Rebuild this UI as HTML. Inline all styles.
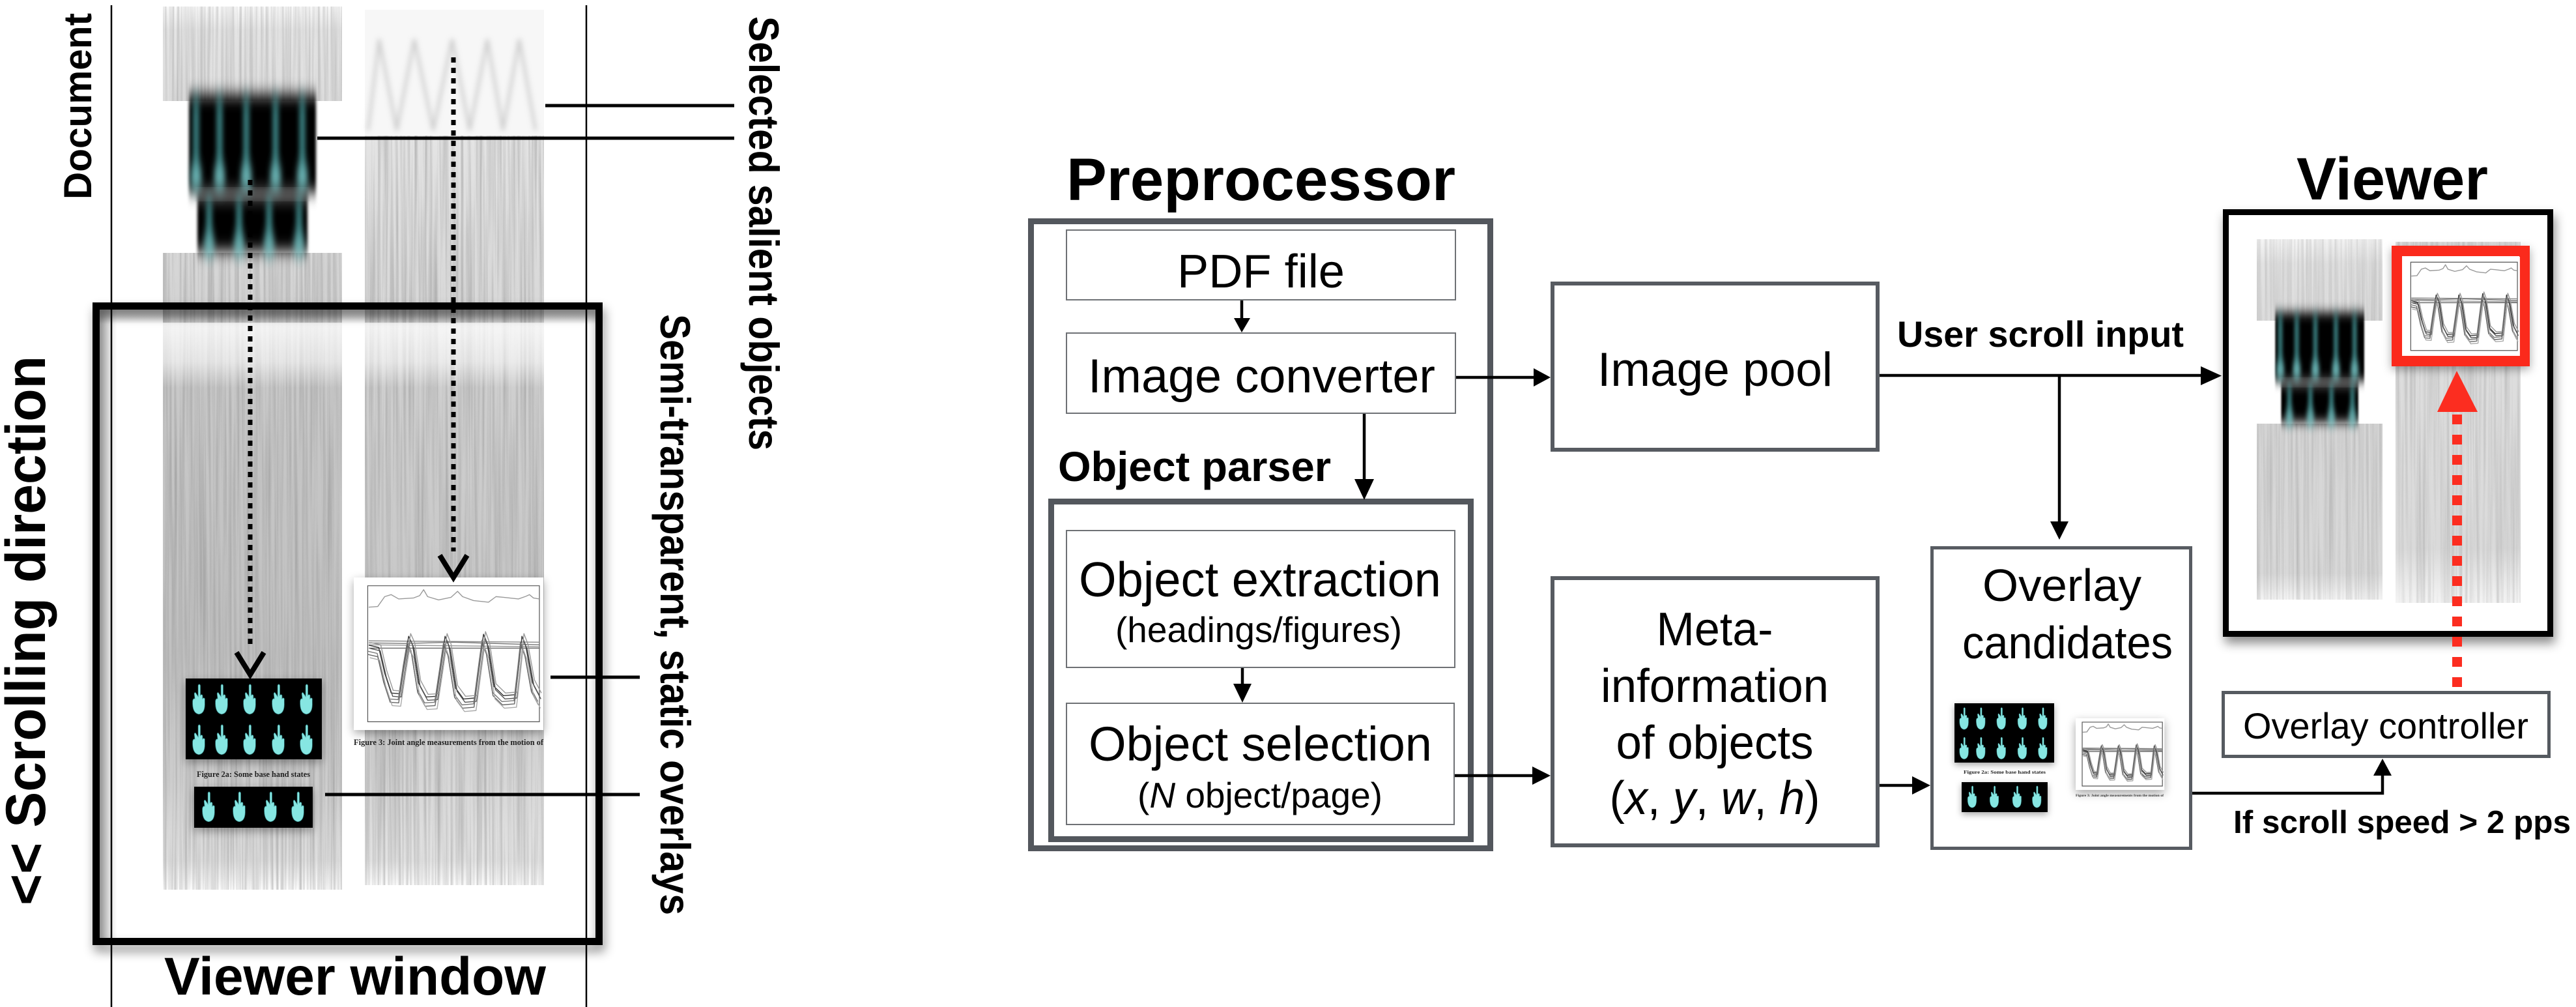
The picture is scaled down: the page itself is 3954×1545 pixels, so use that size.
<!DOCTYPE html>
<html><head><meta charset="utf-8">
<style>html,body{margin:0;padding:0;background:#fff}svg{display:block}</style>
</head><body>
<svg xmlns="http://www.w3.org/2000/svg" width="3954" height="1545" viewBox="0 0 3954 1545" font-family="'Liberation Sans', Arial, sans-serif">
<defs>
  <filter id="streaks" x="0" y="0" width="1" height="1">
    <feTurbulence type="fractalNoise" baseFrequency="0.25 0.003" numOctaves="3" seed="7" result="n"/>
    <feColorMatrix in="n" type="matrix" values="0 0 0 0 0.3  0 0 0 0 0.3  0 0 0 0 0.3  1.7 0 0 0 -0.6" result="m"/>
    <feComposite in="m" in2="SourceGraphic" operator="in"/>
  </filter>
  <filter id="blurV" x="-20%" y="-40%" width="140%" height="180%"><feGaussianBlur stdDeviation="2 12"/></filter>
  <filter id="blurC" x="-40%" y="-40%" width="180%" height="180%"><feGaussianBlur stdDeviation="4 14"/></filter>
  <filter id="blur3" x="-20%" y="-20%" width="140%" height="140%"><feGaussianBlur stdDeviation="4"/></filter>
  <filter id="shadow" x="-10%" y="-10%" width="120%" height="125%"><feDropShadow dx="3" dy="10" stdDeviation="8" flood-color="#000" flood-opacity="0.45"/></filter>
  <filter id="softsh" x="-20%" y="-20%" width="140%" height="150%"><feDropShadow dx="0" dy="5" stdDeviation="7" flood-color="#000" flood-opacity="0.35"/></filter>

  <linearGradient id="gA" gradientUnits="userSpaceOnUse" x1="0" y1="10" x2="0" y2="155">
    <stop offset="0" stop-color="#fafafa"/><stop offset="0.25" stop-color="#e4e4e4"/><stop offset="1" stop-color="#dedede"/>
  </linearGradient>
  <linearGradient id="gLB" gradientUnits="userSpaceOnUse" x1="0" y1="388" x2="0" y2="1365">
    <stop offset="0" stop-color="#d8d8d8"/><stop offset="0.084" stop-color="#d2d2d2"/>
    <stop offset="0.217" stop-color="#c8c8c8"/><stop offset="0.626" stop-color="#c0c0c0"/>
    <stop offset="0.831" stop-color="#cdcdcd"/><stop offset="0.954" stop-color="#dedede"/><stop offset="1" stop-color="#fcfcfc"/>
  </linearGradient>
  <linearGradient id="gRB" gradientUnits="userSpaceOnUse" x1="0" y1="208" x2="0" y2="1358">
    <stop offset="0" stop-color="#e4e4e4"/><stop offset="0.228" stop-color="#d8d8d8"/>
    <stop offset="0.339" stop-color="#cfcfcf"/><stop offset="0.6" stop-color="#c8c8c8"/>
    <stop offset="0.817" stop-color="#d2d2d2"/><stop offset="0.967" stop-color="#e2e2e2"/><stop offset="1" stop-color="#fcfcfc"/>
  </linearGradient>
  <linearGradient id="wash" x1="0" y1="0" x2="0" y2="1">
    <stop offset="0" stop-color="#fff" stop-opacity="0.8"/><stop offset="0.6" stop-color="#fff" stop-opacity="0.55"/><stop offset="1" stop-color="#fff" stop-opacity="0"/>
  </linearGradient>
  <linearGradient id="topsh" x1="0" y1="0" x2="0" y2="1">
    <stop offset="0" stop-color="#000" stop-opacity="0.35"/><stop offset="1" stop-color="#000" stop-opacity="0"/>
  </linearGradient>
  <linearGradient id="leftsh" x1="0" y1="0" x2="1" y2="0">
    <stop offset="0" stop-color="#000" stop-opacity="0.25"/><stop offset="1" stop-color="#000" stop-opacity="0"/>
  </linearGradient>
  <linearGradient id="gV1" gradientUnits="userSpaceOnUse" x1="0" y1="367" x2="0" y2="492">
    <stop offset="0" stop-color="#f6f6f6"/><stop offset="0.3" stop-color="#e2e2e2"/><stop offset="1" stop-color="#dcdcdc"/>
  </linearGradient>
  <linearGradient id="gV2" gradientUnits="userSpaceOnUse" x1="0" y1="650" x2="0" y2="920">
    <stop offset="0" stop-color="#d6d6d6"/><stop offset="0.85" stop-color="#d8d8d8"/><stop offset="1" stop-color="#f4f4f4"/>
  </linearGradient>
  <linearGradient id="gV3" gradientUnits="userSpaceOnUse" x1="0" y1="371" x2="0" y2="925">
    <stop offset="0" stop-color="#e0e0e0"/><stop offset="0.85" stop-color="#dadada"/><stop offset="1" stop-color="#f4f4f4"/>
  </linearGradient>

  <symbol id="hand" viewBox="0 0 40 60">
    <path fill="#86e6e2" stroke="#2f7f80" stroke-width="0.8" d="M9,34 Q8,56 20,58 Q32,57 31,36 L31,30 Q29,27 27,30 L27,24 Q25,21 23,24 L23,6 Q21,2 19,6 L19,26 L15,20 Q13,17 12,21 L13,30 Q10,29 9,34 Z"/>
  </symbol>

  <g id="bh">
    <g filter="url(#blurV)">
      <rect x="290" y="145" width="195" height="150" fill="#000"/>
      <rect x="303" y="302" width="169" height="84" fill="#000"/>
    </g>
    <rect x="300" y="292" width="175" height="12" fill="#888" filter="url(#blurV)" opacity="0.7"/>
    <g filter="url(#blurC)" stroke="#5fd0d2" stroke-width="8" opacity="0.7">
      <line x1="301" y1="150" x2="301" y2="280"/><line x1="337" y1="150" x2="337" y2="280"/>
      <line x1="378" y1="150" x2="378" y2="280"/><line x1="423" y1="150" x2="423" y2="280"/>
      <line x1="464" y1="150" x2="464" y2="280"/>
      <line x1="321" y1="305" x2="321" y2="382"/><line x1="367" y1="305" x2="367" y2="382"/>
      <line x1="413" y1="305" x2="413" y2="382"/><line x1="459" y1="305" x2="459" y2="382"/>
    </g>
    <g filter="url(#blurC)" fill="#8fe6e6" opacity="0.8">
      <ellipse cx="301" cy="272" rx="10" ry="16"/><ellipse cx="337" cy="272" rx="10" ry="16"/>
      <ellipse cx="378" cy="272" rx="10" ry="16"/><ellipse cx="423" cy="272" rx="10" ry="16"/>
      <ellipse cx="464" cy="272" rx="10" ry="16"/>
      <ellipse cx="321" cy="376" rx="10" ry="13"/><ellipse cx="367" cy="376" rx="10" ry="13"/>
      <ellipse cx="413" cy="376" rx="10" ry="13"/><ellipse cx="459" cy="376" rx="10" ry="13"/>
    </g>
  </g>

  <g id="hi1">
    <rect x="285" y="1041" width="209" height="124" fill="#000"/>
    <use href="#hand" x="288" y="1045" width="34" height="54"/>
    <use href="#hand" x="323" y="1045" width="34" height="54"/>
    <use href="#hand" x="366" y="1045" width="34" height="54"/>
    <use href="#hand" x="410" y="1045" width="34" height="54"/>
    <use href="#hand" x="453" y="1045" width="34" height="54"/>
    <use href="#hand" x="288" y="1107" width="34" height="54"/>
    <use href="#hand" x="323" y="1107" width="34" height="54"/>
    <use href="#hand" x="366" y="1107" width="34" height="54"/>
    <use href="#hand" x="410" y="1107" width="34" height="54"/>
    <use href="#hand" x="453" y="1107" width="34" height="54"/>
  </g>
  <g id="hi2">
    <rect x="298" y="1207" width="182" height="63" fill="#000"/>
    <use href="#hand" x="303" y="1210" width="34" height="54"/>
    <use href="#hand" x="350" y="1210" width="34" height="54"/>
    <use href="#hand" x="398" y="1210" width="34" height="54"/>
    <use href="#hand" x="440" y="1210" width="34" height="54"/>
  </g>

  <g id="chartG">
    <rect x="0" y="0" width="380" height="462" fill="#fff"/>
    <rect x="28" y="25" width="344" height="412" fill="none" stroke="#555" stroke-width="1.2" vector-effect="non-scaling-stroke"/>
    <g fill="none" stroke-width="1.4" stroke-linejoin="round">
      <path vector-effect="non-scaling-stroke" stroke="#999" d="M30,90 L48,88 L62,58 L75,52 L90,65 L120,62 L132,55 L140,37 L148,58 L170,68 L195,60 L208,42 L218,58 L240,70 L270,75 L285,58 L300,60 L330,65 L345,57 L352,52 L360,62 L372,65"/>
      <path vector-effect="non-scaling-stroke" stroke="#888" d="M30,192 L372,196"/>
      <path vector-effect="non-scaling-stroke" stroke="#777" d="M30,198 L100,200 L200,196 L372,204"/>
      <path vector-effect="non-scaling-stroke" stroke="#999" d="M30,204 L372,210"/>
      <path vector-effect="non-scaling-stroke" stroke="#666" d="M30,214 L372,214"/>
      <path vector-effect="non-scaling-stroke" stroke="#333" d="M30,205 L50,212 L62,290 L75,350 L92,352 L102,250 L110,178 L118,205 L130,320 L145,362 L165,360 L176,250 L183,178 L191,210 L204,335 L220,368 L243,365 L253,250 L260,172 L268,205 L281,330 L300,358 L324,355 L332,250 L337,178 L345,210 L358,318 L372,358"/>
      <path vector-effect="non-scaling-stroke" stroke="#555" transform="translate(3,10)" d="M30,205 L50,212 L62,290 L75,350 L92,352 L102,250 L110,178 L118,205 L130,320 L145,362 L165,360 L176,250 L183,178 L191,210 L204,335 L220,368 L243,365 L253,250 L260,172 L268,205 L281,330 L300,358 L324,355 L332,250 L337,178 L345,210 L358,318 L372,358"/>
      <path vector-effect="non-scaling-stroke" stroke="#777" transform="translate(-3,18)" d="M30,205 L50,212 L62,290 L75,350 L92,352 L102,250 L110,178 L118,205 L130,320 L145,362 L165,360 L176,250 L183,178 L191,210 L204,335 L220,368 L243,365 L253,250 L260,172 L268,205 L281,330 L300,358 L324,355 L332,250 L337,178 L345,210 L358,318 L372,358"/>
      <path vector-effect="non-scaling-stroke" stroke="#999" transform="translate(4,-8)" d="M30,205 L50,212 L62,290 L75,350 L92,352 L102,250 L110,178 L118,205 L130,320 L145,362 L165,360 L176,250 L183,178 L191,210 L204,335 L220,368 L243,365 L253,250 L260,172 L268,205 L281,330 L300,358 L324,355 L332,250 L337,178 L345,210 L358,318 L372,358"/>
      <path vector-effect="non-scaling-stroke" stroke="#666" transform="translate(-2,28)" d="M30,205 L50,212 L62,290 L75,350 L92,352 L102,250 L110,178 L118,205 L130,320 L145,362 L165,360 L176,250 L183,178 L191,210 L204,335 L220,368 L243,365 L253,250 L260,172 L268,205 L281,330 L300,358 L324,355 L332,250 L337,178 L345,210 L358,318 L372,358"/>
      <path vector-effect="non-scaling-stroke" stroke="#aaa" transform="translate(2,38)" d="M30,205 L50,212 L62,290 L75,350 L92,352 L102,250 L110,178 L118,205 L130,320 L145,362 L165,360 L176,250 L183,178 L191,210 L204,335 L220,368 L243,365 L253,250 L260,172 L268,205 L281,330 L300,358 L324,355 L332,250 L337,178 L345,210 L358,318 L372,358"/>
    </g>
  </g>
</defs>

<rect x="0" y="0" width="3954" height="1545" fill="#fff"/>

<!-- ================= LEFT PANEL ================= -->
<rect x="250" y="10" width="275" height="145" fill="url(#gA)"/>
<rect x="250" y="10" width="275" height="145" fill="#000" opacity="0.55" filter="url(#streaks)"/>
<rect x="250" y="388" width="275" height="977" fill="url(#gLB)"/>
<rect x="250" y="388" width="275" height="977" fill="#000" opacity="0.7" filter="url(#streaks)"/>

<rect x="560" y="15" width="275" height="193" fill="#f7f7f7"/>
<path d="M565,200 L582,60 L609,200 L636,60 L665,200 L694,60 L721,200 L748,60 L772,200 L797,60 L822,200" fill="none" stroke="#aaa" stroke-width="5" opacity="0.5" filter="url(#blur3)"/>
<rect x="560" y="208" width="275" height="1150" fill="url(#gRB)"/>
<rect x="560" y="208" width="275" height="1150" fill="#000" opacity="0.65" filter="url(#streaks)"/>

<use href="#bh"/>

<!-- washed inner area -->
<rect x="180" y="495" width="715" height="100" fill="url(#wash)"/>
<rect x="153" y="475" width="762" height="22" fill="url(#topsh)"/>
<rect x="153" y="475" width="27" height="965" fill="url(#leftsh)"/>

<line x1="171" y1="8" x2="171" y2="1545" stroke="#000" stroke-width="2.5"/>
<line x1="900" y1="8" x2="900" y2="1545" stroke="#000" stroke-width="2.5"/>

<rect x="147.5" y="469.5" width="772" height="975" fill="none" stroke="#000" stroke-width="11" filter="url(#shadow)"/>

<!-- chart left panel -->
<g filter="url(#softsh)">
  <use href="#chartG" transform="translate(543,886) scale(0.766,0.5065)"/>
</g>
<text x="543" y="1143" font-family="'Liberation Serif', serif" font-weight="bold" font-size="13" textLength="291" lengthAdjust="spacingAndGlyphs" fill="#222">Figure 3: Joint angle measurements from the motion of</text>

<!-- hands left panel -->
<use href="#hi1" filter="url(#softsh)"/>
<text x="302" y="1192" font-family="'Liberation Serif', serif" font-weight="bold" font-size="13" textLength="174" lengthAdjust="spacingAndGlyphs" fill="#222">Figure 2a: Some base hand states</text>
<use href="#hi2" filter="url(#softsh)"/>

<!-- dotted arrows -->
<line x1="384" y1="276" x2="384" y2="996" stroke="#000" stroke-width="7" stroke-dasharray="8 8"/>
<polyline points="363,1001 384,1035 405,1001" fill="none" stroke="#000" stroke-width="8"/>
<line x1="696" y1="88" x2="696" y2="846" stroke="#000" stroke-width="7" stroke-dasharray="8 8"/>
<polyline points="675,852 696,886 717,852" fill="none" stroke="#000" stroke-width="8"/>

<!-- connectors -->
<g stroke="#000" stroke-width="5">
  <line x1="487" y1="212" x2="1127" y2="212"/>
  <line x1="837" y1="162" x2="1127" y2="162"/>
  <line x1="845" y1="1039" x2="982" y2="1039"/>
  <line x1="499" y1="1219" x2="982" y2="1219"/>
</g>

<text transform="translate(140,306) rotate(-90)" font-weight="bold" font-size="60" textLength="286" lengthAdjust="spacingAndGlyphs">Document</text>
<text transform="translate(69,1389) rotate(-90)" font-weight="bold" font-size="86" textLength="843" lengthAdjust="spacingAndGlyphs">&lt;&lt; Scrolling direction</text>
<text transform="translate(1150,25) rotate(90)" font-weight="bold" font-size="65" textLength="666" lengthAdjust="spacingAndGlyphs">Selected salient objects</text>
<text transform="translate(1014,482) rotate(90)" font-weight="bold" font-size="65" textLength="922" lengthAdjust="spacingAndGlyphs">Semi-transparent, static overlays</text>
<text x="252" y="1526" font-weight="bold" font-size="82" textLength="586" lengthAdjust="spacingAndGlyphs">Viewer window</text>

<!-- ================= PREPROCESSOR ================= -->
<text x="1637" y="307" font-weight="bold" font-size="92" textLength="597" lengthAdjust="spacingAndGlyphs">Preprocessor</text>
<rect x="1582.5" y="339.5" width="705" height="962" fill="#fff" stroke="#53575d" stroke-width="9"/>
<rect x="1637" y="353" width="597" height="107" fill="#fff" stroke="#6e7175" stroke-width="2"/>
<text x="1807" y="441" font-size="72" textLength="257" lengthAdjust="spacingAndGlyphs">PDF file</text>
<rect x="1637" y="511" width="597" height="123" fill="#fff" stroke="#6e7175" stroke-width="2"/>
<text x="1670" y="602" font-size="73" textLength="533" lengthAdjust="spacingAndGlyphs">Image converter</text>
<text x="1624" y="738" font-weight="bold" font-size="64" textLength="419" lengthAdjust="spacingAndGlyphs">Object parser</text>
<rect x="1613.5" y="769.5" width="644" height="518" fill="#fff" stroke="#53575d" stroke-width="9"/>
<rect x="1637" y="814" width="596" height="210" fill="#fff" stroke="#6e7175" stroke-width="2"/>
<text x="1656" y="915" font-size="75" textLength="556" lengthAdjust="spacingAndGlyphs">Object extraction</text>
<text x="1712" y="985" font-size="55" textLength="440" lengthAdjust="spacingAndGlyphs">(headings/figures)</text>
<rect x="1637" y="1079" width="595" height="186" fill="#fff" stroke="#6e7175" stroke-width="2"/>
<text x="1671" y="1167" font-size="74" textLength="527" lengthAdjust="spacingAndGlyphs">Object selection</text>
<text x="1746" y="1239" font-size="55" textLength="376" lengthAdjust="spacingAndGlyphs">(<tspan font-style="italic">N</tspan> object/page)</text>

<!-- arrows preprocessor -->
<g stroke="#000" stroke-width="4.5">
  <line x1="1906" y1="461" x2="1906" y2="490"/>
  <line x1="2235" y1="579" x2="2356" y2="579"/>
  <line x1="2094" y1="635" x2="2094" y2="737"/>
  <line x1="1907" y1="1025" x2="1907" y2="1051"/>
  <line x1="2233" y1="1190" x2="2354" y2="1190"/>
</g>
<g fill="#000">
  <polygon points="1894,488 1919,488 1906,510"/>
  <polygon points="2354,565 2354,593 2380,579"/>
  <polygon points="2079,735 2109,735 2094,767"/>
  <polygon points="1893,1049 1921,1049 1907,1078"/>
  <polygon points="2352,1176 2352,1204 2380,1190"/>
</g>

<!-- ================= MIDDLE ================= -->
<rect x="2383" y="435" width="499" height="255" fill="#fff" stroke="#575b61" stroke-width="6"/>
<text x="2452" y="592" font-size="73" textLength="361" lengthAdjust="spacingAndGlyphs">Image pool</text>

<rect x="2383" y="887" width="499" height="410" fill="#fff" stroke="#575b61" stroke-width="6"/>
<g font-size="72" text-anchor="middle">
  <text x="2632" y="990" textLength="179" lengthAdjust="spacingAndGlyphs">Meta-</text>
  <text x="2632" y="1077" textLength="350" lengthAdjust="spacingAndGlyphs">information</text>
  <text x="2632" y="1164" textLength="303" lengthAdjust="spacingAndGlyphs">of objects</text>
  <text x="2632" y="1249" textLength="323" lengthAdjust="spacingAndGlyphs">(<tspan font-style="italic">x</tspan>, <tspan font-style="italic">y</tspan>, <tspan font-style="italic">w</tspan>, <tspan font-style="italic">h</tspan>)</text>
</g>

<text x="2912" y="532" font-weight="bold" font-size="56" textLength="440" lengthAdjust="spacingAndGlyphs">User scroll input</text>

<rect x="2965.5" y="840.5" width="397" height="461" fill="#fff" stroke="#585c62" stroke-width="5"/>
<text x="3043" y="922" font-size="70" textLength="244" lengthAdjust="spacingAndGlyphs">Overlay</text>
<text x="3012" y="1010" font-size="70" textLength="323" lengthAdjust="spacingAndGlyphs">candidates</text>
<use href="#hi1" transform="translate(3000,1079) scale(0.732,0.734) translate(-285,-1041)" filter="url(#softsh)"/>
<text x="3014" y="1187" font-family="'Liberation Serif', serif" font-weight="bold" font-size="7" textLength="126" lengthAdjust="spacingAndGlyphs" fill="#222">Figure 2a: Some base hand states</text>
<use href="#hi2" transform="translate(3011,1200) scale(0.725,0.73) translate(-298,-1207)" filter="url(#softsh)"/>
<g filter="url(#softsh)">
  <use href="#chartG" transform="translate(3186,1102) scale(0.358,0.238)"/>
</g>
<text x="3186" y="1222" font-family="'Liberation Serif', serif" font-weight="bold" font-size="5" textLength="135" lengthAdjust="spacingAndGlyphs" fill="#333">Figure 3: Joint angle measurements from the motion of</text>

<g stroke="#000" stroke-width="4.5" fill="none">
  <line x1="2885" y1="576" x2="3380" y2="576"/>
  <line x1="3161" y1="576" x2="3161" y2="802"/>
  <line x1="2885" y1="1205" x2="2937" y2="1205"/>
  <path d="M3365,1217 H3657 V1188"/>
</g>
<g fill="#000">
  <polygon points="3378,562 3378,591 3410,576.5"/>
  <polygon points="3147,800 3175,800 3161,828"/>
  <polygon points="2935,1191 2935,1219 2963,1205"/>
  <polygon points="3643,1190 3671,1190 3657,1164"/>
</g>

<!-- ================= VIEWER ================= -->
<text x="3525" y="306" font-weight="bold" font-size="92" textLength="294" lengthAdjust="spacingAndGlyphs">Viewer</text>
<rect x="3416.5" y="325.5" width="498" height="647" fill="#fff" stroke="#000" stroke-width="9" filter="url(#shadow)"/>
<rect x="3421" y="330" width="489" height="638" fill="#fff"/>
<rect x="3464" y="367" width="193" height="125" fill="url(#gV1)"/>
<rect x="3464" y="367" width="193" height="125" fill="#000" opacity="0.45" filter="url(#streaks)"/>
<rect x="3464" y="650" width="193" height="270" fill="url(#gV2)"/>
<rect x="3464" y="650" width="193" height="270" fill="#000" opacity="0.5" filter="url(#streaks)"/>
<rect x="3677" y="371" width="192" height="554" fill="url(#gV3)"/>
<rect x="3677" y="371" width="192" height="554" fill="#000" opacity="0.45" filter="url(#streaks)"/>
<use href="#bh" transform="translate(3491,471) scale(0.7) translate(-288,-133)"/>

<g filter="url(#softsh)">
  <rect x="3679" y="385" width="196" height="169" fill="#fff" stroke="#fb2b1d" stroke-width="16"/>
</g>
<use href="#chartG" transform="translate(3687,394) scale(0.476,0.329)"/>

<polygon points="3771,569 3741,632 3803,632" fill="#fc2d20"/>
<line x1="3771.5" y1="636" x2="3771.5" y2="1060" stroke="#fc2d20" stroke-width="15" stroke-dasharray="15 16"/>

<rect x="3412.5" y="1062.5" width="500" height="98" fill="#fff" stroke="#555a60" stroke-width="5"/>
<text x="3443" y="1133" font-size="56" textLength="438" lengthAdjust="spacingAndGlyphs">Overlay controller</text>
<text x="3428" y="1278" font-weight="bold" font-size="49" textLength="518" lengthAdjust="spacingAndGlyphs">If scroll speed &gt; 2 pps</text>

</svg>
</body></html>
